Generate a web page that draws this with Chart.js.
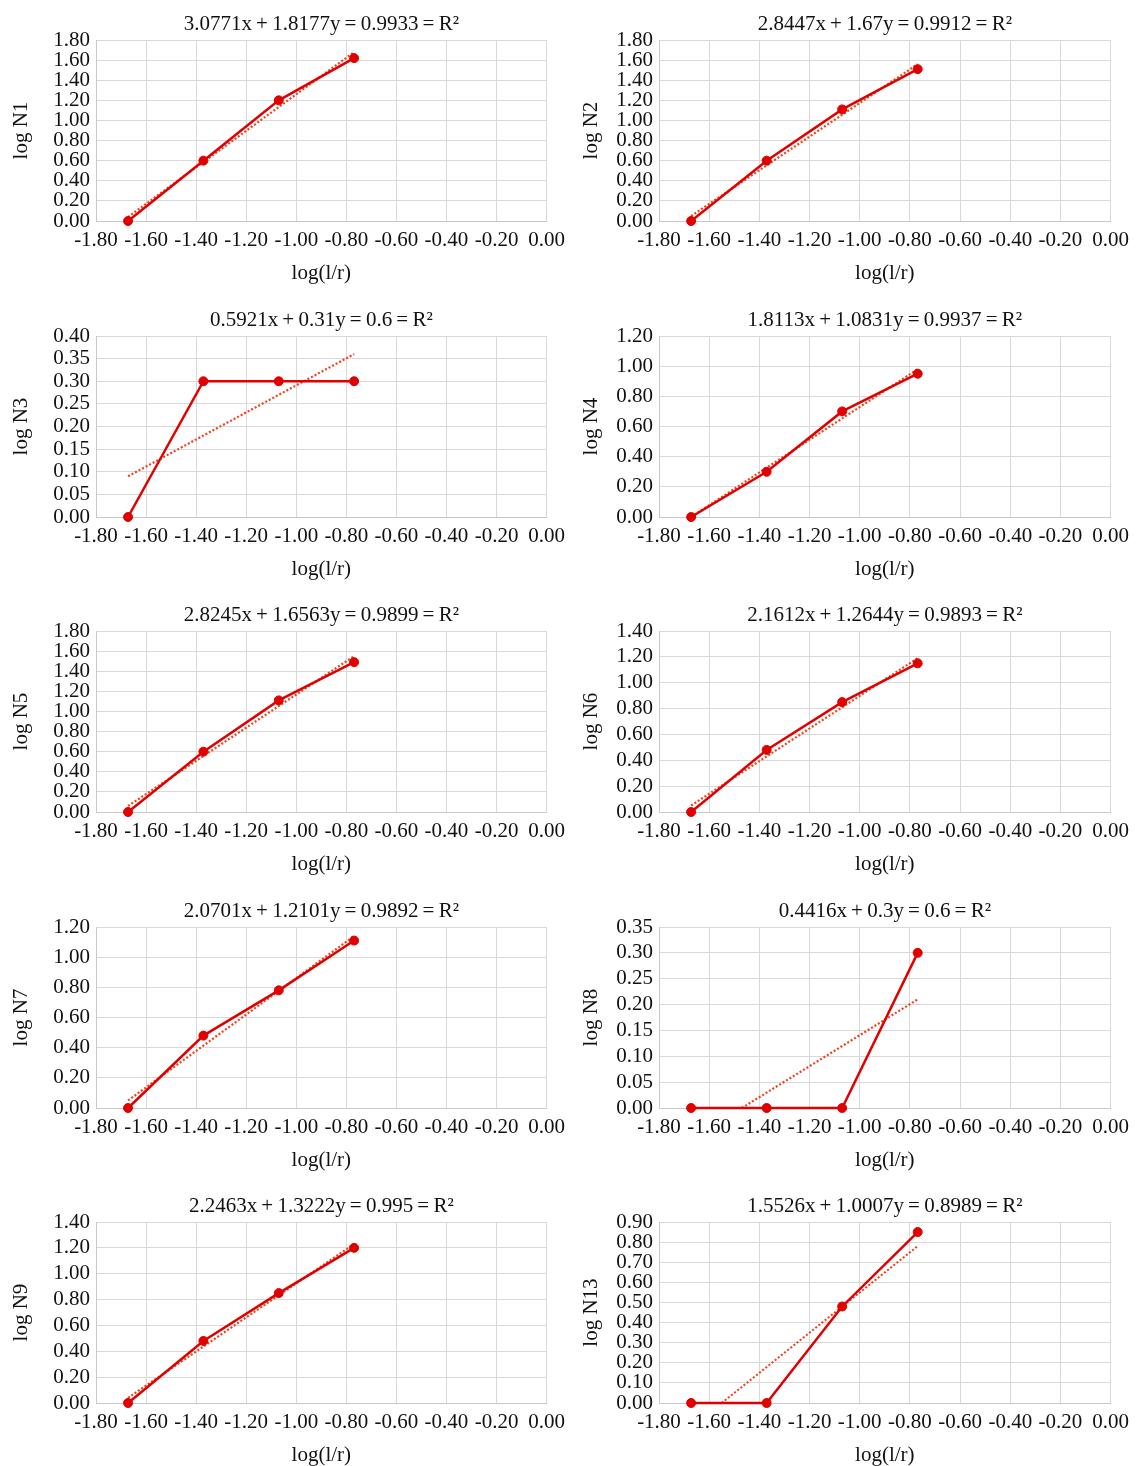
<!DOCTYPE html>
<html lang="en">
<head>
  <meta charset="UTF-8" />
  <title>log N vs log(l/r)</title>
  <script src="https://cdn.jsdelivr.net/npm/chart.js"></script>
  <style>
    body { margin: 0; background: #fff; }
    #wrap { position: relative; width: 1145px; height: 1466px; }
    #wrap canvas { position: absolute; }
  </style>
</head>
<body>
  <div id="wrap"></div>

  <script>
    // x values: log(l/r), shared by all panels
    const logLR = [-1.672, -1.371, -1.070, -0.769];

    const logN1  = [0, 0.60, 1.20, 1.62];
    const logN2  = [0, 0.60, 1.11, 1.51];
    const logN3  = [0, 0.30, 0.30, 0.30];
    const logN4  = [0, 0.30, 0.70, 0.95];
    const logN5  = [0, 0.60, 1.11, 1.49];
    const logN6  = [0, 0.48, 0.85, 1.15];
    const logN7  = [0, 0.48, 0.78, 1.11];
    const logN8  = [0, 0, 0, 0.30];
    const logN9  = [0, 0.48, 0.85, 1.20];
    const logN13 = [0, 0, 0.48, 0.85];

    const seriesNames = ['N1', 'N2', 'N3', 'N4', 'N5', 'N6', 'N7', 'N8', 'N9', 'N13'];
    const seriesValues = [logN1, logN2, logN3, logN4, logN5, logN6, logN7, logN8, logN9, logN13];

    const titles = [
      '3.0771x\u2009+\u20091.8177y\u2009=\u20090.9933\u2009=\u2009R\u00B2',
      '2.8447x\u2009+\u20091.67y\u2009=\u20090.9912\u2009=\u2009R\u00B2',
      '0.5921x\u2009+\u20090.31y\u2009=\u20090.6\u2009=\u2009R\u00B2',
      '1.8113x\u2009+\u20091.0831y\u2009=\u20090.9937\u2009=\u2009R\u00B2',
      '2.8245x\u2009+\u20091.6563y\u2009=\u20090.9899\u2009=\u2009R\u00B2',
      '2.1612x\u2009+\u20091.2644y\u2009=\u20090.9893\u2009=\u2009R\u00B2',
      '2.0701x\u2009+\u20091.2101y\u2009=\u20090.9892\u2009=\u2009R\u00B2',
      '0.4416x\u2009+\u20090.3y\u2009=\u20090.6\u2009=\u2009R\u00B2',
      '2.2463x\u2009+\u20091.3222y\u2009=\u20090.995\u2009=\u2009R\u00B2',
      '1.5526x\u2009+\u20091.0007y\u2009=\u20090.8989\u2009=\u2009R\u00B2'
    ];

    // dotted linear trend lines (end points)
    const fitStartX = [-1.672, -1.672, -1.672, -1.672, -1.672, -1.672, -1.672, -1.47, -1.672, -1.55];
    const fitStartY = [0.04, 0.05, 0.09, 0.00, 0.06, 0.05, 0.05, 0.00, 0.04, 0.00];
    const fitEndX   = [-0.769, -0.769, -0.769, -0.769, -0.769, -0.769, -0.769, -0.769, -0.769, -0.769];
    const fitEndY   = [1.68, 1.56, 0.36, 0.98, 1.55, 1.19, 1.14, 0.21, 1.23, 0.78];

    // y axis ranges
    const yMax  = [1.8, 1.8, 0.4, 1.2, 1.8, 1.4, 1.2, 0.35, 1.4, 0.9];
    const yStep = [0.2, 0.2, 0.05, 0.2, 0.2, 0.2, 0.2, 0.05, 0.2, 0.1];

    const xMin = -1.8, xMax = 0, xStep = 0.2;

    const FONT = "'Liberation Serif', 'Times New Roman', serif";
    const FS = 21;
    const RED = '#e00000';
    const FIT = '#f2401c';
    const GRID = '#d9d9d9';

    const fmt = v => (Math.abs(v) < 1e-9 ? 0 : v).toFixed(2);

    const wrap = document.getElementById('wrap');

    seriesNames.forEach((name, i) => {
      const col = i % 2, row = Math.floor(i / 2);
      const cv = document.createElement('canvas');
      cv.width = 572; cv.height = 296;
      cv.style.left = (col * 564) + 'px';
      cv.style.top = Math.round(row * 295.5) + 'px';
      wrap.appendChild(cv);

      new Chart(cv.getContext('2d'), {
        type: 'line',
        data: {
          datasets: [
            {
              data: logLR.map((x, k) => ({ x: x, y: seriesValues[i][k] })),
              borderColor: RED, backgroundColor: RED,
              borderWidth: 2.5, pointRadius: 4.5, pointBorderWidth: 1,
              clip: false
            },
            {
              data: [{ x: fitStartX[i], y: fitStartY[i] }, { x: fitEndX[i], y: fitEndY[i] }],
              borderColor: FIT, borderWidth: 2.2, borderDash: [2, 2],
              pointRadius: 0, clip: false
            }
          ]
        },
        options: {
          responsive: false,
          animation: false,
          layout: { padding: { left: 0, right: 23, top: 0, bottom: 0 } },
          plugins: {
            legend: { display: false },
            tooltip: { enabled: false },
            title: {
              display: true, text: titles[i], fullSize: false,
              color: '#111', font: { family: FONT, size: FS, weight: 'normal', lineHeight: 1.15 },
              padding: { top: 12, bottom: 3.85 }
            }
          },
          scales: {
            x: {
              type: 'linear', min: xMin, max: xMax,
              afterFit: s => { s.height = 75; },
              grid: { color: GRID, drawTicks: false },
              border: { color: '#c8c8c8' },
              ticks: {
                stepSize: xStep, autoSkip: false, maxRotation: 0, minRotation: 0,
                padding: 7, color: '#111', font: { family: FONT, size: FS },
                callback: v => fmt(v)
              },
              title: {
                display: true, text: 'log(l/r)', color: '#111',
                font: { family: FONT, size: FS }, padding: { top: 0, bottom: 10 }
              }
            },
            y: {
              type: 'linear', min: 0, max: yMax[i],
              afterFit: s => { s.width = col === 0 ? 96 : 95; },
              grid: { color: GRID, drawTicks: false },
              border: { color: '#c8c8c8' },
              ticks: {
                stepSize: yStep[i], autoSkip: false, padding: 6, color: '#111',
                font: { family: FONT, size: FS, lineHeight: 1 },
                callback: v => fmt(v)
              },
              title: {
                display: true, text: 'log ' + name, color: '#111',
                font: { family: FONT, size: FS },
                padding: { top: col === 0 ? 9 : 15, bottom: 0 }
              }
            }
          }
        }
      });
    });
  </script>
</body>
</html>
